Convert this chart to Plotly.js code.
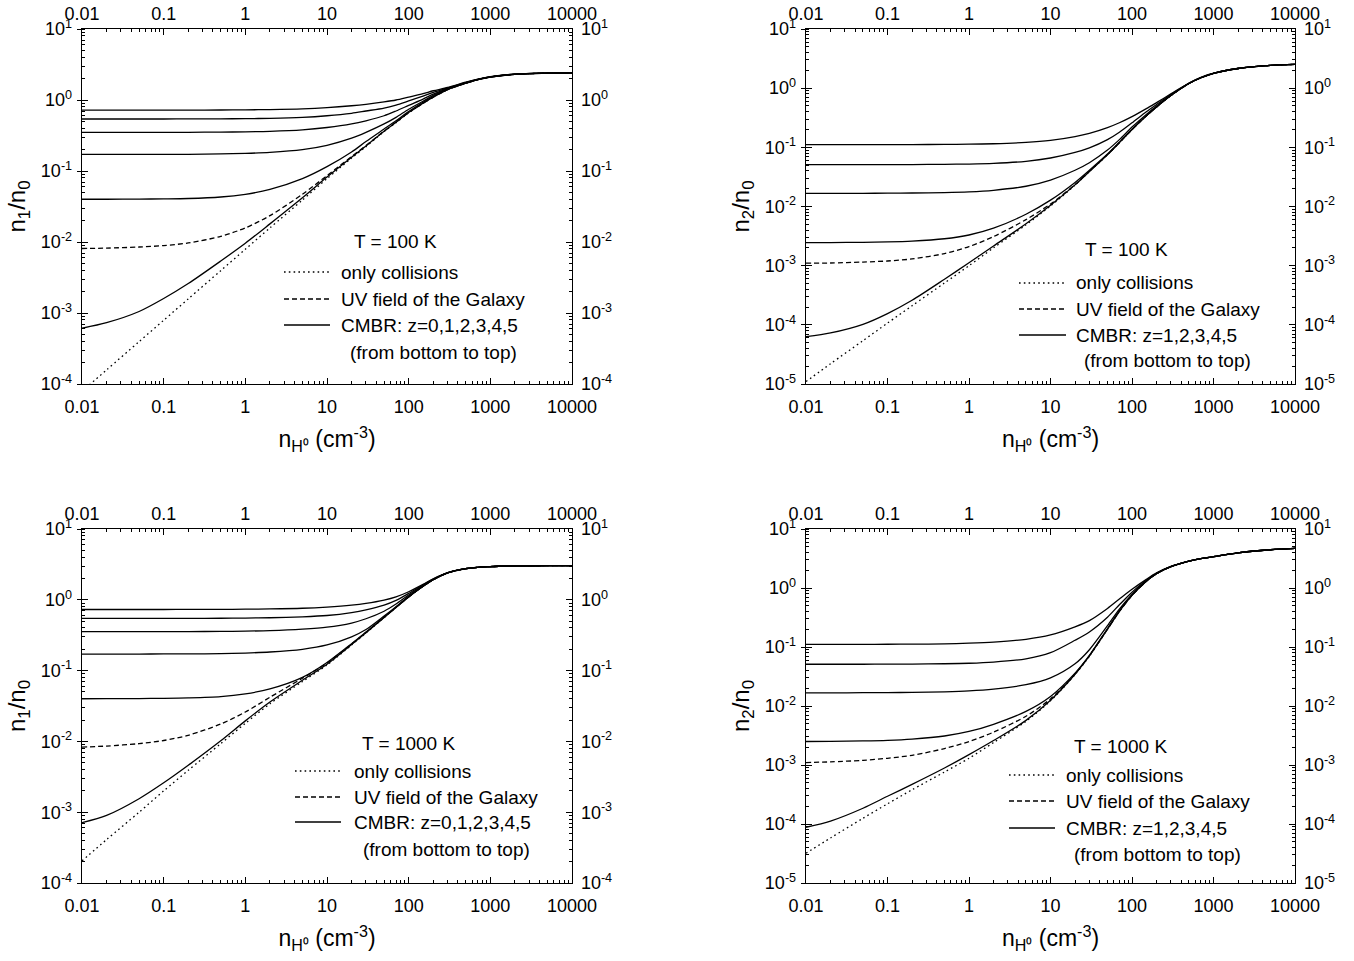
<!DOCTYPE html>
<html>
<head>
<meta charset="utf-8">
<script src="https://cdn.plot.ly/plotly-3.0.1.min.js"></script>
<style>html,body{margin:0;padding:0;background:#fff;}#chart{width:1354px;height:961px;}</style>
</head>
<body>
<div id="chart"></div>
<script>
// ---------- data ----------
const xs = [0.01, 0.02, 0.05, 0.1, 0.2, 0.5, 1, 2, 5, 10, 20, 30, 50, 70, 100, 150, 200, 300, 500, 700, 1000, 2000, 5000, 10000];

const xTickVals = [0.01, 0.1, 1, 10, 100, 1000, 10000];
const xTickText = ["0.01", "0.1", "1", "10", "100", "1000", "10000"];
const yTickValsA = [1e-4, 1e-3, 1e-2, 1e-1, 1, 10];
const yTickTextA = ["10<sup>-4</sup>", "10<sup>-3</sup>", "10<sup>-2</sup>", "10<sup>-1</sup>", "10<sup>0</sup>", "10<sup>1</sup>"];
const yTickValsB = [1e-5, 1e-4, 1e-3, 1e-2, 1e-1, 1, 10];
const yTickTextB = ["10<sup>-5</sup>", "10<sup>-4</sup>", "10<sup>-3</sup>", "10<sup>-2</sup>", "10<sup>-1</sup>", "10<sup>0</sup>", "10<sup>1</sup>"];

// Panel 1: n1/n0, T = 100 K
const p1_coll = [7.9e-5, 1.58e-4, 3.95e-4, 7.9e-4, 1.58e-3, 3.95e-3, 7.9e-3, 0.0158, 0.039, 0.078, 0.152, 0.22, 0.36, 0.48, 0.66, 0.9, 1.1, 1.4, 1.72, 1.93, 2.1, 2.3, 2.39, 2.41];
const p1_uv   = [0.0081, 0.0082, 0.0085, 0.0089, 0.0097, 0.012, 0.0158, 0.0235, 0.047, 0.086, 0.16, 0.228, 0.365, 0.487, 0.665, 0.9, 1.1, 1.4, 1.72, 1.93, 2.1, 2.3, 2.39, 2.41];
const p1_z0   = [6.1e-4, 7.3e-4, 1.05e-3, 1.6e-3, 2.6e-3, 5.4e-3, 9.6e-3, 0.018, 0.042, 0.082, 0.156, 0.225, 0.362, 0.485, 0.665, 0.9, 1.1, 1.4, 1.72, 1.93, 2.1, 2.3, 2.39, 2.41];
const p1_z1   = [0.040, 0.040, 0.0402, 0.0405, 0.041, 0.043, 0.047, 0.055, 0.078, 0.115, 0.185, 0.26, 0.39, 0.51, 0.69, 0.93, 1.12, 1.41, 1.73, 1.93, 2.1, 2.3, 2.39, 2.41];
const p1_z2   = [0.171, 0.171, 0.171, 0.172, 0.172, 0.174, 0.177, 0.183, 0.2, 0.23, 0.29, 0.35, 0.46, 0.57, 0.74, 0.96, 1.16, 1.43, 1.74, 1.94, 2.11, 2.3, 2.39, 2.41];
const p1_z3   = [0.35, 0.35, 0.35, 0.35, 0.351, 0.353, 0.356, 0.362, 0.38, 0.41, 0.46, 0.51, 0.6, 0.7, 0.84, 1.03, 1.21, 1.45, 1.75, 1.94, 2.11, 2.31, 2.39, 2.41];
const p1_z4   = [0.54, 0.54, 0.54, 0.54, 0.541, 0.543, 0.546, 0.552, 0.57, 0.6, 0.65, 0.7, 0.77, 0.85, 0.97, 1.13, 1.28, 1.47, 1.76, 1.95, 2.12, 2.31, 2.39, 2.41];
const p1_z5   = [0.72, 0.72, 0.72, 0.72, 0.721, 0.723, 0.727, 0.733, 0.75, 0.78, 0.83, 0.87, 0.94, 1.0, 1.1, 1.23, 1.35, 1.5, 1.78, 1.96, 2.13, 2.32, 2.39, 2.41];

// Panel 2: n2/n0, T = 100 K
const p2_coll = [1.1e-5, 2.2e-5, 5.4e-5, 1.07e-4, 2.1e-4, 5.1e-4, 1.0e-3, 2.0e-3, 4.9e-3, 0.0102, 0.023, 0.039, 0.075, 0.12, 0.2, 0.34, 0.48, 0.75, 1.2, 1.5, 1.78, 2.15, 2.42, 2.52];
const p2_uv   = [1.1e-3, 1.11e-3, 1.15e-3, 1.2e-3, 1.3e-3, 1.6e-3, 2.1e-3, 3.1e-3, 6.0e-3, 0.011, 0.0235, 0.0395, 0.0755, 0.12, 0.2, 0.34, 0.48, 0.75, 1.2, 1.5, 1.78, 2.15, 2.42, 2.52];
const p2_z1   = [6.3e-5, 7.3e-5, 1.02e-4, 1.55e-4, 2.6e-4, 5.9e-4, 1.12e-3, 2.15e-3, 5.1e-3, 0.0105, 0.0232, 0.039, 0.075, 0.12, 0.2, 0.34, 0.48, 0.75, 1.2, 1.5, 1.78, 2.15, 2.42, 2.52];
const p2_z2   = [2.45e-3, 2.46e-3, 2.48e-3, 2.52e-3, 2.6e-3, 2.85e-3, 3.3e-3, 4.3e-3, 7.4e-3, 0.0128, 0.0255, 0.041, 0.077, 0.122, 0.2, 0.34, 0.48, 0.75, 1.2, 1.5, 1.78, 2.15, 2.42, 2.52];
const p2_z3   = [0.0167, 0.0167, 0.0167, 0.0168, 0.0169, 0.0172, 0.0177, 0.0188, 0.022, 0.028, 0.041, 0.055, 0.09, 0.135, 0.22, 0.36, 0.5, 0.76, 1.2, 1.5, 1.78, 2.15, 2.42, 2.52];
const p2_z4   = [0.051, 0.051, 0.051, 0.0511, 0.0512, 0.0516, 0.0522, 0.0535, 0.058, 0.066, 0.082, 0.098, 0.135, 0.18, 0.26, 0.4, 0.53, 0.78, 1.21, 1.51, 1.78, 2.15, 2.42, 2.52];
const p2_z5   = [0.111, 0.111, 0.111, 0.1112, 0.1115, 0.112, 0.113, 0.115, 0.121, 0.131, 0.152, 0.172, 0.215, 0.26, 0.33, 0.45, 0.57, 0.8, 1.22, 1.52, 1.79, 2.15, 2.42, 2.52];

// Panel 3: n1/n0, T = 1000 K
const p3_coll = [2.05e-4, 4.1e-4, 1.0e-3, 2.0e-3, 3.9e-3, 9.3e-3, 0.018, 0.034, 0.07, 0.12, 0.23, 0.34, 0.56, 0.78, 1.1, 1.55, 1.92, 2.4, 2.75, 2.88, 2.95, 3.01, 3.03, 3.04];
const p3_uv   = [0.0083, 0.0086, 0.0093, 0.0103, 0.0122, 0.0176, 0.026, 0.042, 0.078, 0.128, 0.237, 0.346, 0.564, 0.782, 1.1, 1.55, 1.92, 2.4, 2.75, 2.88, 2.95, 3.01, 3.03, 3.04];
const p3_z0   = [7.1e-4, 9.0e-4, 1.55e-3, 2.6e-3, 4.6e-3, 0.0102, 0.0195, 0.036, 0.073, 0.123, 0.233, 0.343, 0.562, 0.781, 1.1, 1.55, 1.92, 2.4, 2.75, 2.88, 2.95, 3.01, 3.03, 3.04];
const p3_z1   = [0.040, 0.0401, 0.0403, 0.0406, 0.0412, 0.043, 0.047, 0.055, 0.08, 0.13, 0.24, 0.35, 0.565, 0.785, 1.1, 1.55, 1.92, 2.4, 2.75, 2.88, 2.95, 3.01, 3.03, 3.04];
const p3_z2   = [0.171, 0.171, 0.171, 0.172, 0.172, 0.174, 0.177, 0.183, 0.2, 0.23, 0.3, 0.38, 0.59, 0.8, 1.12, 1.56, 1.93, 2.4, 2.75, 2.88, 2.95, 3.01, 3.03, 3.04];
const p3_z3   = [0.355, 0.355, 0.355, 0.355, 0.356, 0.358, 0.361, 0.367, 0.385, 0.41, 0.47, 0.54, 0.69, 0.87, 1.17, 1.59, 1.95, 2.41, 2.75, 2.88, 2.95, 3.01, 3.03, 3.04];
const p3_z4   = [0.546, 0.546, 0.546, 0.546, 0.547, 0.549, 0.552, 0.558, 0.575, 0.6, 0.66, 0.72, 0.84, 0.98, 1.23, 1.62, 1.96, 2.41, 2.76, 2.88, 2.95, 3.01, 3.03, 3.04];
const p3_z5   = [0.73, 0.73, 0.73, 0.73, 0.731, 0.733, 0.737, 0.743, 0.76, 0.79, 0.84, 0.89, 0.99, 1.1, 1.3, 1.65, 1.98, 2.42, 2.76, 2.88, 2.95, 3.01, 3.03, 3.04];

// Panel 4: n2/n0, T = 1000 K
const p4_coll = [3.2e-5, 5.8e-5, 1.25e-4, 2.2e-4, 3.8e-4, 7.6e-4, 1.3e-3, 2.4e-3, 5.5e-3, 0.0122, 0.034, 0.07, 0.2, 0.4, 0.75, 1.3, 1.75, 2.3, 2.85, 3.15, 3.4, 3.95, 4.45, 4.7];
const p4_uv   = [1.1e-3, 1.13e-3, 1.2e-3, 1.3e-3, 1.46e-3, 1.9e-3, 2.5e-3, 3.6e-3, 6.7e-3, 0.0132, 0.035, 0.071, 0.2, 0.4, 0.75, 1.3, 1.75, 2.3, 2.85, 3.15, 3.4, 3.95, 4.45, 4.7];
const p4_z1   = [8.8e-5, 1.12e-4, 1.85e-4, 2.95e-4, 4.7e-4, 8.9e-4, 1.5e-3, 2.6e-3, 5.7e-3, 0.0125, 0.0345, 0.0705, 0.2, 0.4, 0.75, 1.3, 1.75, 2.3, 2.85, 3.15, 3.4, 3.95, 4.45, 4.7];
const p4_z2   = [2.5e-3, 2.52e-3, 2.56e-3, 2.62e-3, 2.75e-3, 3.1e-3, 3.7e-3, 4.9e-3, 8.1e-3, 0.0145, 0.036, 0.072, 0.205, 0.41, 0.76, 1.31, 1.75, 2.3, 2.85, 3.15, 3.4, 3.95, 4.45, 4.7];
const p4_z3   = [0.0167, 0.0167, 0.0168, 0.0169, 0.017, 0.0174, 0.018, 0.0193, 0.023, 0.03, 0.052, 0.09, 0.23, 0.44, 0.78, 1.32, 1.76, 2.3, 2.85, 3.15, 3.4, 3.95, 4.45, 4.7];
const p4_z4   = [0.051, 0.051, 0.051, 0.0512, 0.0514, 0.052, 0.053, 0.0555, 0.063, 0.08, 0.13, 0.18, 0.32, 0.52, 0.85, 1.35, 1.77, 2.31, 2.85, 3.15, 3.4, 3.95, 4.45, 4.7];
const p4_z5   = [0.111, 0.111, 0.111, 0.1113, 0.1118, 0.113, 0.116, 0.121, 0.135, 0.16, 0.22, 0.28, 0.45, 0.65, 0.95, 1.4, 1.8, 2.32, 2.86, 3.15, 3.4, 3.95, 4.45, 4.7];

const panelTemps = ["T = 100 K", "T = 100 K", "T = 1000 K", "T = 1000 K"];
const legendLabels = ["only collisions", "UV field of the Galaxy"];
const cmbrLabels = ["CMBR: z=0,1,2,3,4,5", "CMBR: z=1,2,3,4,5", "CMBR: z=0,1,2,3,4,5", "CMBR: z=1,2,3,4,5"];
const orderNote = "(from bottom to top)";
const yTitles = ["n<sub>1</sub>/n<sub>0</sub>", "n<sub>2</sub>/n<sub>0</sub>", "n<sub>1</sub>/n<sub>0</sub>", "n<sub>2</sub>/n<sub>0</sub>"];
const xTitle = "n<sub>H⁰</sub> (cm<sup>-3</sup>)";

// ---------- layout geometry ----------
const W = 1354, H = 961;
const FONT = "Arial, 'Liberation Sans', Helvetica, sans-serif";
const boxes = [
  {l: 82, r: 572, t: 29, b: 384},
  {l: 806, r: 1295, t: 29, b: 384},
  {l: 82, r: 572, t: 529, b: 883},
  {l: 806, r: 1295, t: 529, b: 883}
];
const panels = [
  {coll: p1_coll, uv: p1_uv, cmbr: [p1_z0, p1_z1, p1_z2, p1_z3, p1_z4, p1_z5], yr: [-4, 1], yv: yTickValsA, yt: yTickTextA},
  {coll: p2_coll, uv: p2_uv, cmbr: [p2_z1, p2_z2, p2_z3, p2_z4, p2_z5], yr: [-5, 1], yv: yTickValsB, yt: yTickTextB},
  {coll: p3_coll, uv: p3_uv, cmbr: [p3_z0, p3_z1, p3_z2, p3_z3, p3_z4, p3_z5], yr: [-4, 1], yv: yTickValsA, yt: yTickTextA},
  {coll: p4_coll, uv: p4_uv, cmbr: [p4_z1, p4_z2, p4_z3, p4_z4, p4_z5], yr: [-5, 1], yv: yTickValsB, yt: yTickTextB}
];
// legend block positions (px)
const legendPos = [
  {tx: 396, ty: 242, s0: 284, s1: 330, rows: [272, 299, 325], txt: 339, nx: 348, ny: 352},
  {tx: 1126, ty: 250, s0: 1019, s1: 1066, rows: [283, 309, 335], txt: 1074, nx: 1082, ny: 361},
  {tx: 409, ty: 743, s0: 295, s1: 341, rows: [771, 797, 822], txt: 352, nx: 361, ny: 849},
  {tx: 1120, ty: 746, s0: 1009, s1: 1055, rows: [775, 801, 828], txt: 1064, nx: 1072, ny: 854}
];

const px = x => x / W;
const py = y => 1 - y / H;

const traces = [];
const layout = {
  width: W, height: H,
  margin: {l: 0, r: 0, t: 0, b: 0},
  paper_bgcolor: "#fff", plot_bgcolor: "#fff",
  showlegend: false,
  font: {family: FONT, color: "#000", size: 18},
  shapes: [], annotations: []
};

const tickCommon = {
  ticks: "inside", ticklen: 6, tickwidth: 1, tickcolor: "#000",
  showline: true, linecolor: "#000", linewidth: 1.3,
  showgrid: false, zeroline: false,
  tickfont: {family: FONT, size: 18, color: "#000"}
};
const minorLog = {ticks: "inside", ticklen: 3, tickwidth: 1, tickcolor: "#000", dtick: "D1", showgrid: false};

const lineW = 1.3;
const DOT = "1.6px,3.2px";
const DASH = "5px,3px";

panels.forEach((p, i) => {
  const bx = boxes[i];
  const xm = 2 * i + 1, xt = 2 * i + 2;
  const xmName = xm === 1 ? "x" : "x" + xm;
  const ymName = xm === 1 ? "y" : "y" + xm;
  const xtName = "x" + xt, ytName = "y" + xt;
  const xdom = [px(bx.l), px(bx.r)];
  const ydom = [py(bx.b), py(bx.t)];

  // main bottom x axis
  layout[xm === 1 ? "xaxis" : "xaxis" + xm] = Object.assign({}, tickCommon, {
    type: "log", range: [-2, 4], domain: xdom, anchor: ymName, side: "bottom",
    tickmode: "array", tickvals: xTickVals, ticktext: xTickText,
    ticklabelstandoff: 6, minor: minorLog,
    title: {text: xTitle, font: {family: FONT, size: 23, color: "#000"}, standoff: 15}
  });
  // top x axis
  layout["xaxis" + xt] = Object.assign({}, tickCommon, {
    type: "log", range: [-2, 4], anchor: ymName, overlaying: xmName, side: "top",
    tickmode: "array", tickvals: xTickVals, ticktext: xTickText,
    ticklabelstandoff: 1, minor: minorLog
  });
  // left y axis (major ticks crossing the line: outward part here, inward part mirrored from the right axis)
  layout[xm === 1 ? "yaxis" : "yaxis" + xm] = Object.assign({}, tickCommon, {
    type: "log", range: p.yr, domain: ydom, anchor: xmName, side: "left",
    ticks: "outside", ticklen: 4,
    tickmode: "array", tickvals: p.yv, ticktext: p.yt,
    ticklabelstandoff: 1, minor: minorLog,
    title: {text: yTitles[i], font: {family: FONT, size: 24, color: "#000"}, standoff: 8}
  });
  // right y axis
  layout["yaxis" + xt] = Object.assign({}, tickCommon, {
    type: "log", range: p.yr, anchor: xmName, overlaying: ymName, side: "right",
    mirror: "ticks",
    tickmode: "array", tickvals: p.yv, ticktext: p.yt,
    ticklabelstandoff: 4, minor: minorLog
  });

  const base = {type: "scatter", mode: "lines", x: xs, xaxis: xmName, yaxis: ymName,
                line: {color: "#000", width: lineW, shape: "spline", smoothing: 0.8}, hoverinfo: "skip"};
  traces.push(Object.assign({}, base, {y: p.coll, name: legendLabels[0], line: Object.assign({}, base.line, {dash: DOT})}));
  traces.push(Object.assign({}, base, {y: p.uv, name: legendLabels[1], line: Object.assign({}, base.line, {dash: DASH})}));
  p.cmbr.forEach(arr => traces.push(Object.assign({}, base, {y: arr, name: cmbrLabels[i]})));
  // empty trace so the overlay (top/right) axes are drawn
  traces.push({type: "scatter", mode: "lines", x: [], y: [], xaxis: xtName, yaxis: ytName, hoverinfo: "skip", showlegend: false});

  // legend block
  const lp = legendPos[i];
  const dashes = [DOT, DASH, "solid"];
  const labels = [legendLabels[0], legendLabels[1], cmbrLabels[i]];
  layout.annotations.push({xref: "paper", yref: "paper", x: px(lp.tx), y: py(lp.ty), xanchor: "center", yanchor: "middle",
    text: panelTemps[i], showarrow: false, font: {family: FONT, size: 19, color: "#000"}});
  for (let k = 0; k < 3; k++) {
    layout.shapes.push({type: "line", xref: "paper", yref: "paper", x0: px(lp.s0), x1: px(lp.s1), y0: py(lp.rows[k]), y1: py(lp.rows[k]),
      line: {color: "#000", width: lineW, dash: dashes[k]}});
    layout.annotations.push({xref: "paper", yref: "paper", x: px(lp.txt), y: py(lp.rows[k]), xanchor: "left", yanchor: "middle",
      text: labels[k], showarrow: false, font: {family: FONT, size: 19, color: "#000"}});
  }
  layout.annotations.push({xref: "paper", yref: "paper", x: px(lp.nx), y: py(lp.ny), xanchor: "left", yanchor: "middle",
    text: orderNote, showarrow: false, font: {family: FONT, size: 19, color: "#000"}});
});

Plotly.newPlot("chart", traces, layout, {staticPlot: true, displayModeBar: false});
</script>
</body>
</html>
